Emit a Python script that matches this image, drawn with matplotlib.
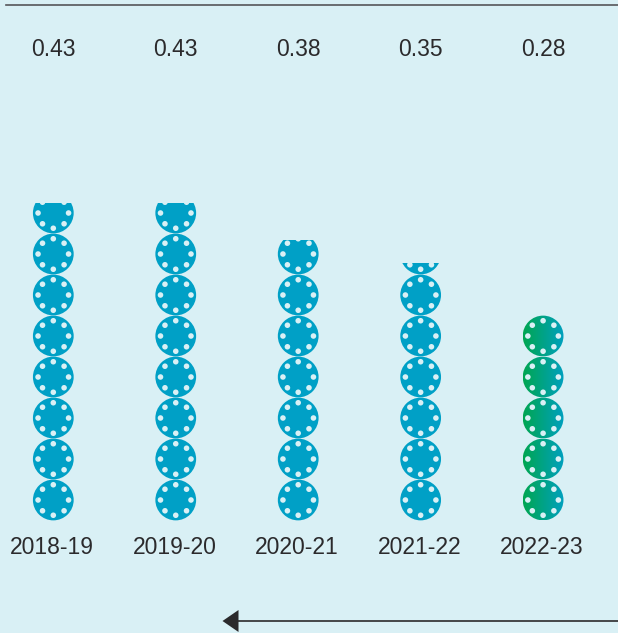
import numpy as np
from matplotlib import pyplot as plt
from matplotlib.patches import Circle, Polygon, Rectangle

years = ["2018-19", "2019-20", "2020-21", "2021-22", "2022-23"]
values = ["0.43", "0.43", "0.38", "0.35", "0.28"]
# height of each stack, counted in coins
stack_heights = [7.74, 7.74, 6.84, 6.27, 5.0]

BG = "#d9f0f5"
BLUE = "#00a0c6"
GREEN_LEFT = np.array([0, 166, 81]) / 255
GREEN_RIGHT = np.array([0, 160, 190]) / 255
INK = "#2b2a2c"

W, H = 618, 633
PITCH = 41.0  # pixels per coin
X0, Y0 = 53.3, 520.5  # first column centre, bottom of stacks
COL_STEP = 122.45 / PITCH

plt.rcParams["font.family"] = ["Liberation Sans", "DejaVu Sans"]

fig = plt.figure(figsize=(W / 100, H / 100), dpi=100, facecolor=BG)
ax = fig.add_axes([0, 0, 1, 1])
ax.set_xlim(-X0 / PITCH, (W - X0) / PITCH)
ax.set_ylim((Y0 - H) / PITCH, Y0 / PITCH)
ax.axis("off")

gradient = np.linspace(0, 1, 64)[None, :, None]
gradient = GREEN_LEFT * (1 - gradient) + GREEN_RIGHT * gradient

for i, height in enumerate(stack_heights):
    x = i * COL_STEP
    clip = Rectangle((x - 1, 0), 2, height, transform=ax.transData)
    for k in range(int(np.ceil(height))):
        y = k + 0.5
        coin = Circle((x, y), 0.497, fc=BLUE, ec="none", zorder=2)
        ax.add_patch(coin)
        if i == len(stack_heights) - 1:
            # last year is drawn in green, fading to blue
            coin.set_visible(False)
            im = ax.imshow(gradient, extent=(x - 0.5, x + 0.5, y - 0.5, y + 0.5),
                           aspect="equal", zorder=2, interpolation="bilinear")
            im.set_clip_path(coin)
        else:
            coin.set_clip_path(clip)
        for a in np.arange(8) * np.pi / 4:
            hole = Circle((x + 0.372 * np.cos(a), y + 0.372 * np.sin(a)), 0.068,
                          fc=BG, ec="none", zorder=3)
            ax.add_patch(hole)
            hole.set_clip_path(clip)

    ax.text(x, (Y0 - 49) / PITCH, values[i], ha="center", va="center", fontsize=16.5, color=INK)
    ax.text(x - 0.03, (Y0 - 548) / PITCH, years[i], ha="center", va="center", fontsize=16.5, color=INK)

# keep limits after imshow
ax.set_xlim(-X0 / PITCH, (W - X0) / PITCH)
ax.set_ylim((Y0 - H) / PITCH, Y0 / PITCH)

# rules and arrow, in figure fractions
fig.add_artist(plt.Line2D([6 / W, 1], [1 - 5 / H, 1 - 5 / H], color="#55565a", lw=1.2))
fig.add_artist(plt.Line2D([238 / W, 1], [1 - 621 / H, 1 - 621 / H], color=INK, lw=1.2))
fig.add_artist(Polygon([[222.5 / W, 1 - 621 / H], [238.5 / W, 1 - 610 / H], [238.5 / W, 1 - 632 / H]],
                       closed=True, fc=INK, ec="none", transform=fig.transFigure))

fig.savefig("out.png", dpi=100, facecolor=BG)
